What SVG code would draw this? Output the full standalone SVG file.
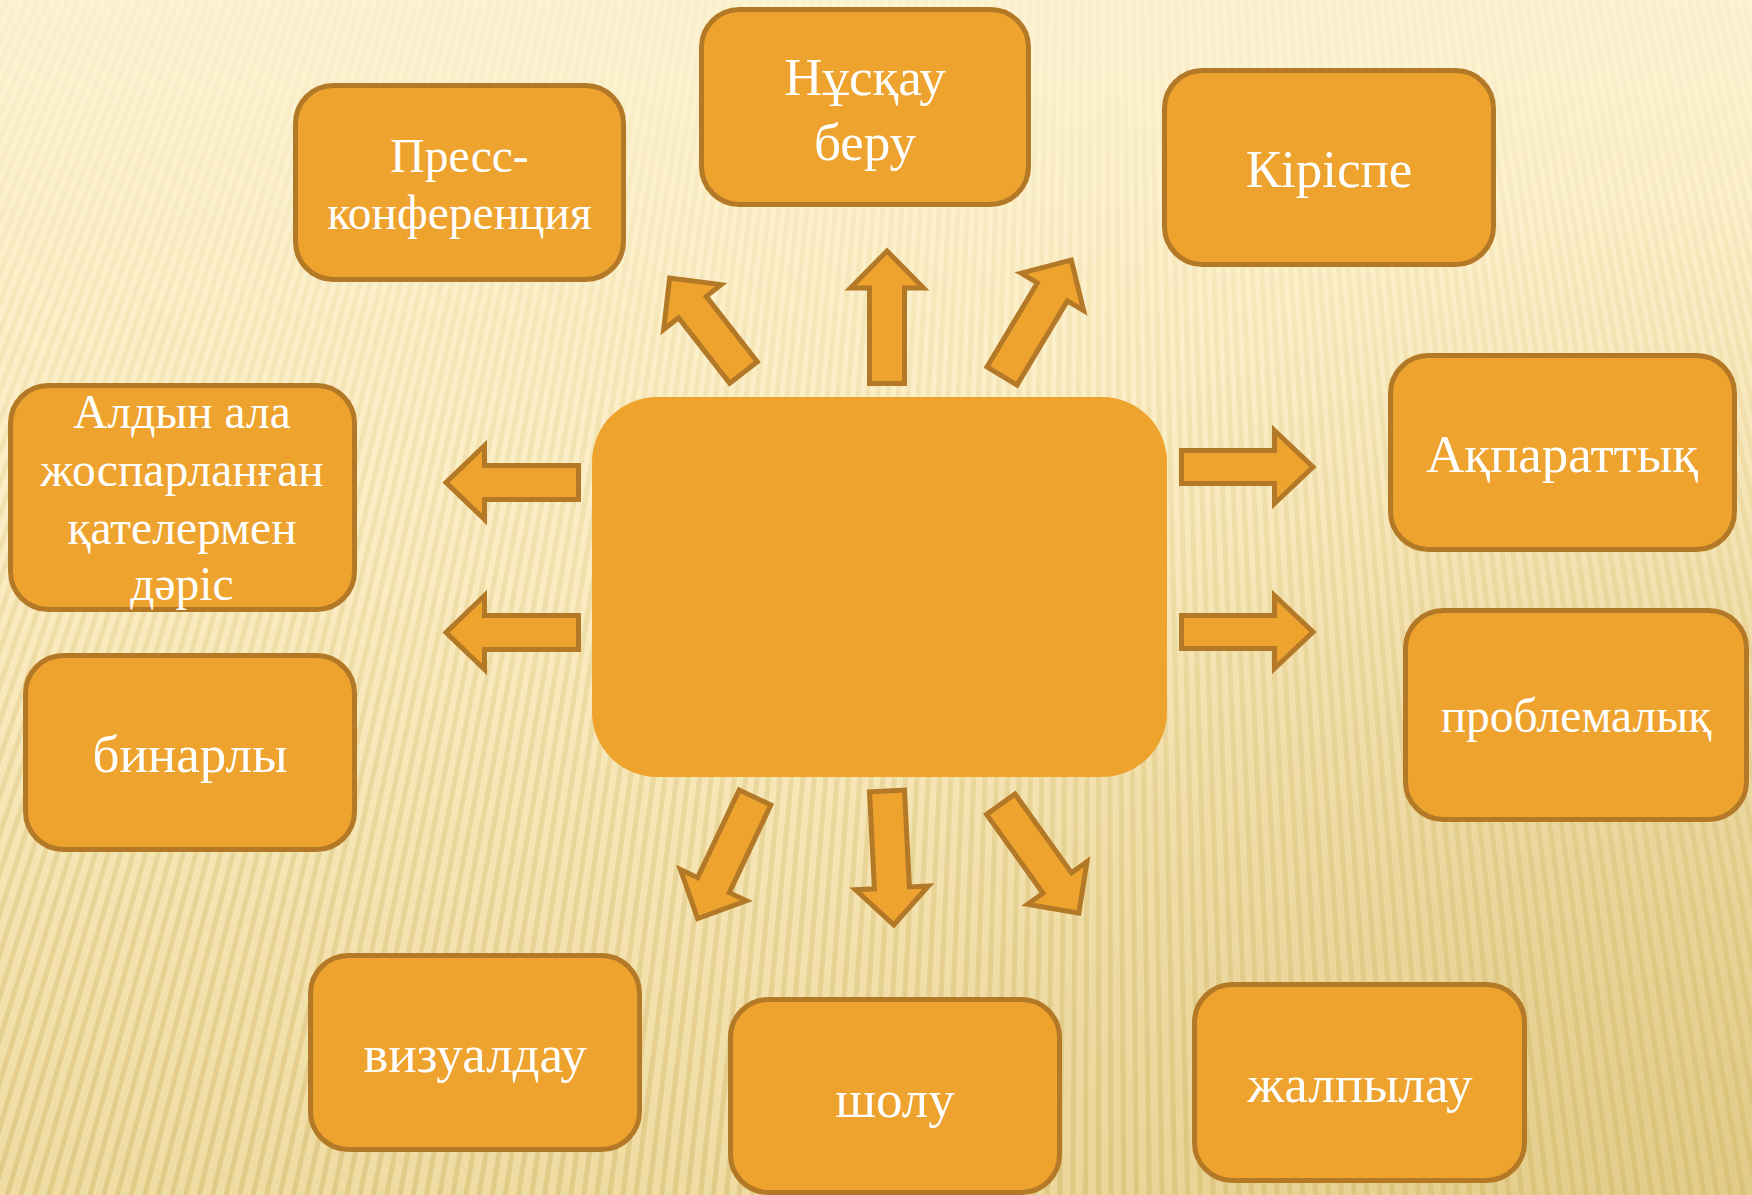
<svg xmlns="http://www.w3.org/2000/svg" width="1752" height="1195" viewBox="0 0 1752 1195">
<defs>
<linearGradient id="bg" x1="0" y1="0" x2="0" y2="1">
<stop offset="0" stop-color="#FDF3D3"/>
<stop offset="0.45" stop-color="#FBEDC3"/>
<stop offset="1" stop-color="#EFDCA2"/>
</linearGradient>
<radialGradient id="shade" gradientUnits="userSpaceOnUse" cx="1752" cy="1195" r="1000">
<stop offset="0" stop-color="#DCC47E" stop-opacity="0.7"/>
<stop offset="1" stop-color="#DCC47E" stop-opacity="0"/>
</radialGradient>
<linearGradient id="stripeGrad" gradientUnits="userSpaceOnUse" x1="0" y1="0" x2="0" y2="1195">
<stop offset="0" stop-color="#D6BB6C" stop-opacity="0.05"/>
<stop offset="0.4" stop-color="#D6BB6C" stop-opacity="0.22"/>
<stop offset="1" stop-color="#D2B566" stop-opacity="0.45"/>
</linearGradient>
<style>
.box{fill:#EEA32F;stroke:#B47926;stroke-width:5}
.arr{fill:#EEA32F;stroke:#B47926;stroke-width:5;stroke-linejoin:miter}
.t{fill:#FFFFFF;font-family:"Liberation Serif","Times New Roman",serif;font-size:53px;text-anchor:middle}
.s{font-size:47.5px}
</style>
</defs>
<rect x="0" y="0" width="1752" height="1195" fill="url(#bg)"/>
<rect x="0" y="0" width="1752" height="1195" fill="url(#shade)"/>
<circle cx="1100" cy="-2500" r="3180" fill="none" stroke="url(#stripeGrad)" stroke-width="1400" stroke-dasharray="5 6"/>

<g id="connectors">
<polygon class="arr" points="578.5,465.5 484.5,465.5 484.5,445.5 446,482.5 484.5,519.5 484.5,499.5 578.5,499.5"/>
<polygon class="arr" points="578.5,615.5 484.5,615.5 484.5,595.5 446,632.5 484.5,669.5 484.5,649.5 578.5,649.5"/>
<polygon class="arr" points="1181.5,450.5 1274.5,450.5 1274.5,430.5 1313,467 1274.5,503.5 1274.5,483.5 1181.5,483.5"/>
<polygon class="arr" points="1181.5,615.5 1274.5,615.5 1274.5,595.5 1313,632 1274.5,668.5 1274.5,648.5 1181.5,648.5"/>
<polygon class="arr" points="869.5,383.5 869.5,288 850.5,288 887,251 923.5,288 904.5,288 904.5,383.5"/>
<polygon class="arr" transform="translate(743.5,372.5) rotate(-128)" points="0,-17.5 83,-17.5 83,-36.5 120,0 83,36.5 83,17.5 0,17.5"/>
<polygon class="arr" transform="translate(1002,376) rotate(-59.1)" points="0,-17.5 98,-17.5 98,-36.5 135,0 98,36.5 98,17.5 0,17.5"/>
<polygon class="arr" transform="translate(755,797.5) rotate(115.35)" points="0,-17.5 97,-17.5 97,-36.5 134,0 97,36.5 97,17.5 0,17.5"/>
<polygon class="arr" transform="translate(887,791) rotate(87.1)" points="0,-17.5 97,-17.5 97,-36.5 134,0 97,36.5 97,17.5 0,17.5"/>
<polygon class="arr" transform="translate(1000.8,804.2) rotate(54.4)" points="0,-17.5 97,-17.5 97,-36.5 134,0 97,36.5 97,17.5 0,17.5"/>
</g>

<g id="center">
<rect x="592" y="397" width="575" height="380" rx="65" ry="65" fill="#EEA32F"/>
</g>

<g id="node-press">
<rect class="box" x="295.5" y="85.5" width="328" height="194" rx="38"/>
<text class="t s" x="459.5" y="172">Пресс-</text>
<text class="t s" x="459.5" y="229">конференция</text>
</g>
<g id="node-nuskau">
<rect class="box" x="701.5" y="9.5" width="327" height="195" rx="38"/>
<text class="t" x="865" y="95">Нұсқау</text>
<text class="t" x="865" y="160">беру</text>
</g>
<g id="node-kirispe">
<rect class="box" x="1164.5" y="70.5" width="329" height="194" rx="38"/>
<text class="t" x="1329" y="187">Кіріспе</text>
</g>
<g id="node-akparattyk">
<rect class="box" x="1390.5" y="355.5" width="344" height="194" rx="38"/>
<text class="t" x="1562" y="472">Ақпараттық</text>
</g>
<g id="node-problemalyk">
<rect class="box" x="1405.5" y="610.5" width="341" height="209" rx="38"/>
<text class="t s" x="1576" y="732">проблемалық</text>
</g>
<g id="node-aldyn">
<rect class="box" x="10.5" y="385.5" width="344" height="224" rx="38"/>
<text class="t s" x="182" y="428">Алдын ала</text>
<text class="t s" x="182" y="486">жоспарланған</text>
<text class="t s" x="182" y="544">қателермен</text>
<text class="t s" x="182" y="600">дәріс</text>
</g>
<g id="node-binarly">
<rect class="box" x="25.5" y="655.5" width="329" height="194" rx="38"/>
<text class="t" x="190" y="772">бинарлы</text>
</g>
<g id="node-vizualdau">
<rect class="box" x="310.5" y="955.5" width="329" height="194" rx="38"/>
<text class="t" x="475" y="1072">визуалдау</text>
</g>
<g id="node-sholu">
<rect class="box" x="730.5" y="999.5" width="329" height="193" rx="38"/>
<text class="t" x="895" y="1117">шолу</text>
</g>
<g id="node-zhalpylau">
<rect class="box" x="1194.5" y="984.5" width="330" height="196" rx="38"/>
<text class="t" x="1360" y="1102">жалпылау</text>
</g>
</svg>
